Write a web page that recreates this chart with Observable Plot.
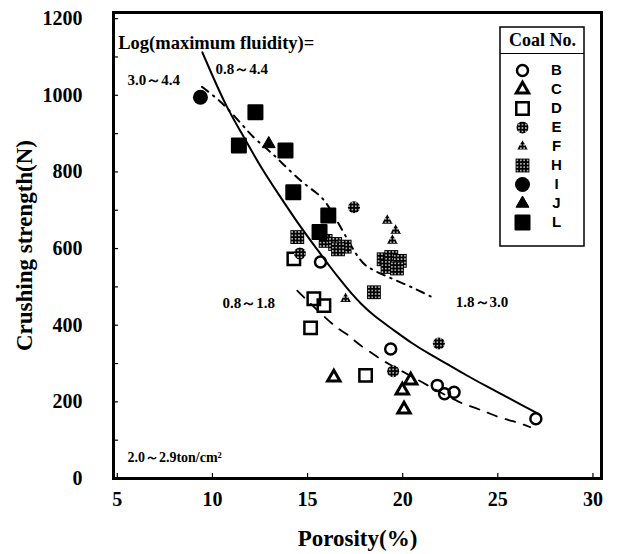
<!DOCTYPE html>
<html>
<head>
<meta charset="utf-8">
<script src="https://cdn.jsdelivr.net/npm/d3@7"></script>
<script src="https://cdn.jsdelivr.net/npm/@observablehq/plot@0.6"></script>
<style>
  body { margin: 0; background: #fff; }
  #chart { width: 618px; height: 554px; }
</style>
</head>
<body>
<div id="chart"></div>
<script>
// Crushing strength of coke lumps against porosity, one array per coal: [porosity %, strength N]
const coalB = [[15.68, 565], [19.37, 338], [21.82, 243], [22.2, 221], [22.7, 225], [27.0, 156]];
const coalC = [[16.38, 264], [20.42, 256], [19.98, 230], [20.07, 180]];
const coalD = [[14.28, 573], [15.33, 469], [15.86, 451], [15.16, 393], [18.05, 269]];
const coalE = [[14.6, 587], [17.44, 708], [19.5, 280], [21.9, 352]];
const coalF = [[17.0, 469], [19.19, 673], [19.63, 647], [19.46, 621]];
const coalH = [[14.46, 630], [15.95, 620], [16.45, 612], [16.95, 605], [16.6, 598], [18.49, 486],
               [19.0, 572], [19.4, 578], [19.85, 568], [19.2, 552], [19.7, 548]];
const coalI = [[9.37, 995]];
const coalJ = [[12.96, 873]];
const coalL = [[12.26, 956], [11.39, 869], [13.84, 856], [14.25, 747], [16.09, 686], [15.63, 643]];

// Trend curves for the fluidity groups
const curveAll = [[9.47, 1112], [10.68, 973], [11.5, 905], [12.5, 815], [13.5, 740], [14.5, 665], [15.5, 598],
                  [16.2, 551], [16.74, 517], [17.26, 485], [17.8, 456], [18.5, 424], [19.4, 392], [20.5, 352],
                  [21.5, 322], [22.34, 299], [23.5, 265], [24.5, 238], [25.5, 212], [26.4, 188], [27.08, 170]];
const curveHigh = [[9.45, 1022], [10.16, 995], [10.68, 972], [11.6, 921], [12.17, 889], [12.7, 867], [13.23, 844],
                   [13.66, 823], [14.28, 793], [14.8, 770], [15.42, 747], [16.03, 724], [17.7, 565], [18.3, 548],
                   [18.84, 534], [20.5, 499], [21.03, 486], [21.55, 473]];
const curveLow = [[14.46, 490], [14.89, 469], [16.55, 390], [17.08, 378], [17.53, 356], [18.05, 338], [18.67, 317],
                  [19.1, 303], [20.86, 256], [21.3, 243], [23.1, 195], [23.6, 188], [24.2, 177], [24.6, 169],
                  [25.2, 157], [25.8, 150], [26.4, 140], [26.7, 134]];

// Axis ticks
const xTicks = [5, 10, 15, 20, 25, 30];
const yTicks = [0, 200, 400, 600, 800, 1000, 1200];
const yMinorTicks = [0, 100, 200, 300, 400, 500, 600, 700, 800, 900, 1000, 1100, 1200];

// Legend entries and annotations
const legendCoals = ["B", "C", "D", "E", "F", "H", "I", "J", "L"];
const legendTitle = "Coal No.";
const annotations = [
  {text: "Log(maximum fluidity)=", x: 5.05, y: 1135, size: 18.5},
  {text: "3.0～4.4", x: 5.53, y: 1039, size: 15},
  {text: "0.8～4.4", x: 10.16, y: 1069, size: 15},
  {text: "0.8～1.8", x: 10.53, y: 458, size: 15},
  {text: "1.8～3.0", x: 22.79, y: 460, size: 15},
  {text: "2.0～2.9ton/cm²", x: 5.53, y: 56, size: 14}
];

const series = {B: coalB, C: coalC, D: coalD, E: coalE, F: coalF, H: coalH, I: coalI, J: coalJ, L: coalL};

// Marker style per coal
const markerStyle = {
  B: {symbol: "circle", fill: "none", stroke: "black", strokeWidth: 2.5, r: 5.5},
  C: {symbol: "triangle", fill: "none", stroke: "black", strokeWidth: 3, r: 4.6, strokeLinejoin: "miter"},
  D: {symbol: "square", fill: "none", stroke: "black", strokeWidth: 2.5, r: 7},
  E: {symbol: "circle", fill: "url(#stipple)", stroke: "none", r: 6},
  F: {symbol: "triangle", fill: "url(#stipple)", stroke: "none", r: 4},
  H: {symbol: "square", fill: "url(#stipple)", stroke: "none", r: 7.8},
  I: {symbol: "circle", fill: "black", stroke: "none", r: 7.5},
  J: {symbol: "triangle", fill: "black", stroke: "black", strokeWidth: 1, r: 4.8},
  L: {symbol: "square", fill: "black", stroke: "black", strokeWidth: 2, strokeLinejoin: "round", r: 7.9}
};

const W = 618, H = 554;
const M = {top: 12, right: 17, bottom: 76, left: 113};
const xDomain = [4.8, 30.45];
const yDomain = [0, 1216];

// pixel -> data helpers for placing the legend panel inside the frame
const xInv = d3.scaleLinear([M.left, W - M.right], xDomain);
const yInv = d3.scaleLinear([H - M.bottom, M.top], yDomain);

const legendRows = legendCoals.map((coal, i) => ({coal, x: xInv(522), lx: xInv(556), y: yInv(70 + 19 * i)}));
const legendBox = {x1: xInv(500), x2: xInv(584), y1: yInv(246), y2: yInv(27)};

const serif = "'Liberation Serif', 'Times New Roman', serif";
const sans = "'Liberation Sans', Arial, sans-serif";

const points = (coal) => series[coal].map(([x, y]) => ({x, y}));
const asXY = (arr) => arr.map(([x, y]) => ({x, y}));
const plain = d3.format("d");

const marks = [
  // inward tick marks
  Plot.axisY(yMinorTicks, {anchor: "left", tickSize: 5, dx: 5, tickFormat: () => "", strokeWidth: 1.2}),
  Plot.axisX(xTicks, {anchor: "bottom", tickSize: 5, dy: -5, tickFormat: () => "", strokeWidth: 1.2}),
  // tick labels
  Plot.axisY(yTicks, {anchor: "left", tickSize: 0, tickPadding: 31, tickFormat: plain, fontSize: 20,
    fontWeight: "bold", fontFamily: serif, label: null}),
  Plot.axisX(xTicks, {anchor: "bottom", tickSize: 0, tickPadding: 13, tickFormat: plain, fontSize: 20,
    fontWeight: "bold", fontFamily: serif, label: null}),
  // axis titles
  Plot.text(["Crushing strength(N)"], {frameAnchor: "left", dx: -89, rotate: -90, text: d => d,
    textAnchor: "middle", lineAnchor: "middle", fontSize: 23, fontWeight: "bold", fontFamily: serif}),
  Plot.text(["Porosity(%)"], {frameAnchor: "bottom", dy: 60, text: d => d,
    textAnchor: "middle", lineAnchor: "middle", fontSize: 23, fontWeight: "bold", fontFamily: serif}),
  // trend curves
  Plot.line(asXY(curveAll), {x: "x", y: "y", curve: "basis", stroke: "black", strokeWidth: 2}),
  Plot.line(asXY(curveHigh), {x: "x", y: "y", curve: "basis", stroke: "black", strokeWidth: 2,
    strokeDasharray: "8,6,1.5,6"}),
  Plot.line(asXY(curveLow), {x: "x", y: "y", curve: "basis", stroke: "black", strokeWidth: 1.8,
    strokeDasharray: "10,9"}),
  // data points
  ...legendCoals.map(coal => Plot.dot(points(coal), {x: "x", y: "y", ...markerStyle[coal]})),
  // annotations
  Plot.text(annotations, {x: "x", y: "y", text: "text", fontSize: d => d.size, textAnchor: "start",
    fontWeight: "bold", fontFamily: serif}),
  // legend panel
  Plot.rect([legendBox], {x1: "x1", x2: "x2", y1: "y1", y2: "y2", fill: "white", stroke: "black", strokeWidth: 1.5}),
  Plot.ruleY([yInv(53)], {x1: legendBox.x1, x2: legendBox.x2, stroke: "black", strokeWidth: 1.2}),
  Plot.text([legendTitle], {x: xInv(542), y: yInv(40), text: d => d, fontSize: 18, fontWeight: "bold", fontFamily: serif}),
  ...legendCoals.map(coal => Plot.dot(legendRows.filter(d => d.coal === coal), {x: "x", y: "y", ...markerStyle[coal]})),
  Plot.text(legendRows, {x: "lx", y: "y", text: "coal", fontSize: 15, fontWeight: "bold", fontFamily: sans}),
  // plot frame
  Plot.frame({stroke: "black", strokeWidth: 3})
];

const chart = Plot.plot({
  width: W,
  height: H,
  marginTop: M.top,
  marginRight: M.right,
  marginBottom: M.bottom,
  marginLeft: M.left,
  x: {domain: xDomain},
  y: {domain: yDomain},
  style: {fontFamily: serif, color: "black", background: "white"},
  marks
});

// stipple texture used by coals E, F and H
d3.select(chart).insert("defs", ":first-child").html(
  `<pattern id="stipple" width="3.4" height="3.4" patternUnits="userSpaceOnUse">
     <rect width="3.4" height="3.4" fill="black"/>
     <rect x="1" y="1" width="1.4" height="1.4" fill="white"/>
   </pattern>`
);

document.getElementById("chart").appendChild(chart);
</script>
</body>
</html>
